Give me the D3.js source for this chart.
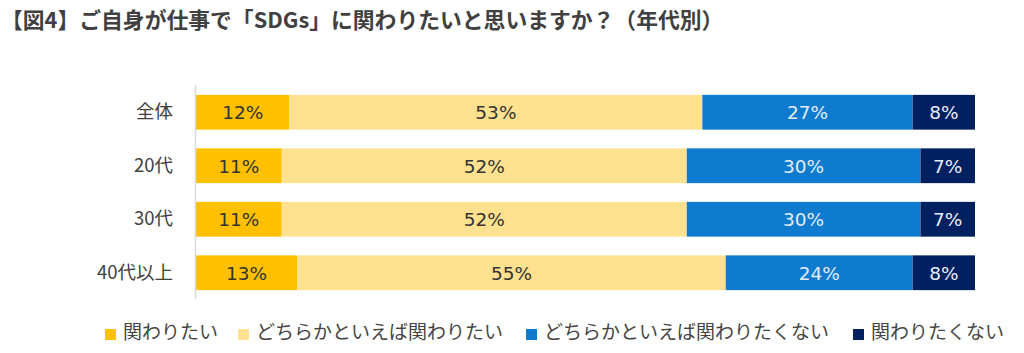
<!DOCTYPE html>
<html>
<head>
<meta charset="utf-8">
<script src="https://cdn.jsdelivr.net/npm/d3@7"></script>
<style>
  html, body { margin: 0; padding: 0; background: #fff; }
  svg { display: block; }
</style>
</head>
<body>
<svg id="chart" width="1024" height="353"></svg>
<script>
const titleText = "【図4】ご自身が仕事で「SDGs」に関わりたいと思いますか？（年代別）";
const categories = ["全体", "20代", "30代", "40代以上"];
const seriesNames = ["関わりたい", "どちらかといえば関わりたい", "どちらかといえば関わりたくない", "関わりたくない"];
const wantTo = [12, 11, 11, 13];
const ratherWant = [53, 52, 52, 55];
const ratherNot = [27, 30, 30, 24];
const notWant = [8, 7, 7, 8];
const seriesColors = ["#FFC000", "#FFE18F", "#0F7BCE", "#002060"];
const labelColors = ["#333333", "#333333", "#E2ECF7", "#E8EEF7"];

const seriesValues = [wantTo, ratherWant, ratherNot, notWant];
const rows = categories.map((c, i) => {
  const r = { cat: c };
  seriesNames.forEach((s, j) => r[s] = seriesValues[j][i]);
  return r;
});

const svg = d3.select("#chart");
const font = "'Noto Sans CJK JP', 'Noto Sans', sans-serif";
const numFont = "'DejaVu Sans', 'Noto Sans', sans-serif";

svg.append("text")
  .attr("x", 1).attr("y", 28)
  .attr("font-family", font)
  .attr("font-weight", "bold")
  .attr("font-size", 21.8)
  .attr("fill", "#404040")
  .text(titleText);

const x = d3.scaleLinear().domain([0, 100]).range([196, 975]);
const y = d3.scaleBand().domain(categories).range([85.5, 299.5]).paddingInner(0.35).paddingOuter(0.175);

const stack = d3.stack().keys(seriesNames)(rows);

const layers = svg.append("g").selectAll("g").data(stack).join("g")
  .attr("fill", (d, i) => seriesColors[i]);

layers.selectAll("rect").data(d => d).join("rect")
  .attr("x", d => x(d[0]))
  .attr("y", d => y(d.data.cat))
  .attr("width", d => x(d[1]) - x(d[0]))
  .attr("height", y.bandwidth());

const labelLayers = svg.append("g").selectAll("g").data(stack).join("g")
  .attr("fill", (d, i) => labelColors[i]);

labelLayers.selectAll("text").data(d => d).join("text")
  .attr("x", d => (x(d[0]) + x(d[1])) / 2)
  .attr("y", d => y(d.data.cat) + y.bandwidth() / 2 + 7)
  .attr("text-anchor", "middle")
  .attr("font-family", numFont)
  .attr("font-size", 18.5)
  .text(d => (d[1] - d[0]) + "%");

// category axis
const yAxis = d3.axisLeft(y).tickSize(0).tickPadding(22);
const ag = svg.append("g").attr("transform", "translate(195,0)").call(yAxis);
ag.select(".domain").remove();
ag.selectAll("text")
  .attr("font-family", font)
  .attr("font-size", 18.5)
  .attr("fill", "#404040");
svg.append("line")
  .attr("x1", 195.5).attr("x2", 195.5)
  .attr("y1", 85).attr("y2", 299)
  .attr("stroke", "#D9D9D9").attr("stroke-width", 1.5);

// legend
const legendX = [105, 238, 526, 853];
const lg = svg.append("g").selectAll("g").data(seriesNames).join("g")
  .attr("transform", (d, i) => `translate(${legendX[i]},329)`);
lg.append("rect").attr("width", 11).attr("height", 11)
  .attr("fill", (d, i) => seriesColors[i]);
lg.append("text")
  .attr("x", 18).attr("y", 10)
  .attr("font-family", font)
  .attr("font-size", 19)
  .attr("fill", "#454545")
  .text(d => d);
</script>
</body>
</html>
